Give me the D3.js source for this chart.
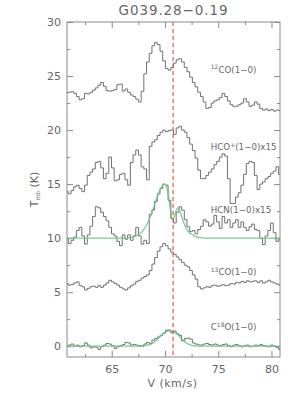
<!DOCTYPE html>
<html>
<head>
<meta charset="utf-8">
<script src="https://cdn.jsdelivr.net/npm/d3@7"></script>
<style>
body { margin: 0; background: #fff; }
text { font-family: "DejaVu Sans", sans-serif; fill: #666; }
</style>
</head>
<body>
<svg id="chart" width="300" height="399"></svg>
<script>
// velocity axis (km/s) and brightness axis (K)
const vRange = [60.8, 80.8];
const tRange = [-1, 30];
const xTicks = [65, 70, 75, 80];
const yTicks = [0, 5, 10, 15, 20, 25, 30];
const minorStep = 2.5;
const vSys = 70.76;
const title = 'G039.28\u22120.19';

// spectra, one value per channel (already offset)
const co12 = [23.45, 23.5, 23.55, 23.4, 23.1, 22.8, 22.9, 23.4, 23.35, 23.5,
    23.7, 23.9, 24.15, 24.4, 24.05, 23.65, 23.6, 23.65, 23.75, 24.2,
    24.25, 23.6, 23.8, 23.5, 23.25, 23.1, 22.85, 22.6, 23.6, 25.2,
    26.3, 27.1, 27.8, 28.1, 27.9, 27.3, 26.4, 25.7, 25.55, 25.8,
    26.2, 26.5, 26.6, 26.3, 25.8, 25.4, 24.9, 24.4, 24.0, 23.5,
    23.1, 22.6, 22.0, 22.1, 22.5, 22.7, 22.8, 23.0, 23.4, 23.1,
    22.7, 22.35, 22.2, 22.2, 22.35, 22.5, 22.9, 22.6, 22.2, 22.3,
    22.6, 22.4, 22.0, 21.85, 21.95, 21.8, 21.9, 21.75, 21.85, 21.8];

const hcop = [14.3, 14.1, 14.4, 14.75, 14.9, 14.6, 14.3, 14.9, 15.8, 16.1,
    16.4, 17.0, 17.1, 16.5, 15.5, 16.0, 17.5, 16.5, 15.3, 15.4,
    15.9, 16.0, 15.4, 14.9, 17.0, 17.7, 18.15, 17.7, 16.6, 16.4,
    15.4, 18.5, 18.9, 19.1, 19.5, 19.8, 20.0, 19.85, 19.95, 20.0,
    19.6, 20.2, 20.35, 20.0, 19.8, 19.3, 18.7, 18.1, 17.4, 16.3,
    15.5, 15.5, 15.8, 16.1, 16.4, 16.8, 17.1, 17.5, 17.8, 17.6,
    15.5, 13.2, 13.2, 13.8, 14.2, 14.9, 15.9, 16.9, 17.1, 17.0,
    15.8, 14.5, 15.0, 15.2, 15.5, 15.7, 16.0, 16.2, 16.6, 15.9];

const hcn = [10.0, 9.5, 9.8, 10.1, 10.7, 11.0, 10.2, 9.45, 10.3, 11.1,
    12.0, 12.9, 12.8, 12.4, 12.0, 11.6, 11.0, 10.4, 10.2, 9.7,
    9.3, 10.3, 9.9, 10.3, 9.8, 10.2, 11.0, 10.2, 9.44, 9.8,
    9.5, 12.2, 12.6, 13.4, 14.1, 14.6, 15.0, 14.9, 13.5, 11.8,
    11.4, 12.4, 12.9, 12.6, 11.7, 11.05, 10.6, 10.7, 10.4, 10.8,
    11.1, 11.7, 11.5, 11.1, 11.3, 12.1, 11.5, 10.9, 12.0, 11.4,
    11.7, 11.0, 11.4, 11.7, 11.0, 11.5, 11.0, 10.7, 11.05, 11.3,
    10.8, 10.7, 10.0, 9.4, 10.2, 10.7, 11.4, 10.5, 9.7, 10.0];

const co13 = [5.8, 5.65, 5.7, 5.85, 5.95, 5.6, 5.5, 5.2, 5.35, 5.5,
    5.55, 5.45, 5.6, 5.45, 5.65, 5.85, 6.1, 5.95, 5.8, 5.65,
    5.45, 5.3, 5.2, 5.4, 5.6, 5.75, 6.0, 6.1, 6.3, 6.45,
    6.6, 7.0, 7.6, 8.2, 8.8, 9.2, 9.5, 9.3, 9.0, 8.7,
    8.5, 8.25, 8.0, 7.75, 7.5, 7.35, 7.0, 6.6, 6.2, 5.5,
    5.3, 5.4, 5.5, 5.45, 5.6, 5.65, 5.55, 5.6, 5.7, 5.6,
    5.65, 5.8, 5.75, 5.9, 5.85, 6.0, 5.9, 6.05, 5.95, 6.0,
    6.05, 5.9, 6.05, 5.85, 5.95, 6.1, 5.95, 5.85, 5.75, 5.65];

const c18o = [0.0, 0.1, 0.2, 0.0, 0.1, -0.05, 0.05, 0.3, 0.1, -0.15,
    -0.05, -0.1, -0.3, -0.05, 0.1, 0.25, 0.2, 0.05, -0.2, -0.05,
    0.05, 0.15, 0.35, 0.3, 0.1, 0.15, 0.1, 0.05, 0.0, 0.2,
    0.35, 0.25, 0.56, 0.7, 0.85, 1.0, 1.2, 1.48, 1.5, 1.25,
    1.4, 1.15, 1.0, 0.5, 0.7, 0.75, 0.65, 0.3, 0.2, 0.12,
    0.1, 0.2, 0.25, 0.15, 0.1, 0.2, 0.1, 0.05, 0.15, 0.2,
    0.05, -0.05, 0.1, 0.15, 0.05, -0.05, 0.05, 0.1, -0.05, 0.0,
    0.1, 0.05, 0.15, 0.05, 0.0, -0.05, 0.1, 0.0, -0.1, -0.3];

// fitted profiles (velocity, value)
const hcnFitV = [60.8, 66.0, 66.8, 67.3, 67.8, 68.2, 68.6, 69.0, 69.3, 69.6, 69.9, 70.1, 70.3, 70.5,
    70.7, 70.85, 71.0, 71.2, 71.4, 71.7, 72.0, 72.3, 72.6, 73.0, 73.5, 74.0, 80.8];
const hcnFitT = [10.0, 10.0, 10.05, 10.2, 10.55, 11.1, 11.9, 13.0, 13.9, 14.6, 15.0, 14.9, 14.1, 12.7,
    11.8, 11.9, 12.4, 12.8, 12.5, 11.6, 10.9, 10.5, 10.3, 10.1, 10.03, 10.0, 10.0];
const c18oFitV = [60.8, 67.5, 68.0, 68.5, 68.9, 69.2, 69.5, 69.8, 70.1, 70.45, 70.8, 71.1, 71.4,
    71.7, 72.0, 72.3, 72.7, 73.2, 80.8];
const c18oFitT = [0, 0, 0.05, 0.13, 0.3, 0.55, 0.85, 1.12, 1.33, 1.42, 1.33, 1.15, 0.85,
    0.55, 0.3, 0.14, 0.05, 0, 0];

const lineNames = [
    [['12', true], ['CO(1\u22120)', false]],
    [['HCO', false], ['+', true], ['(1\u22120)x15', false]],
    [['HCN(1\u22120)x15', false]],
    [['13', true], ['CO(1\u22120)', false]],
    [['C', false], ['18', true], ['O(1\u22120)', false]]
];
const labelT = [25.3, 18.15, 12.35, 6.55, 1.48];
const labelV = 74.3;

const width = 300, height = 399;
const margin = {top: 22, right: 20, bottom: 42, left: 67};

const svg = d3.select('#chart');

const x = d3.scaleLinear().domain(vRange).range([margin.left, width - margin.right]);
const y = d3.scaleLinear().domain(tRange).range([height - margin.bottom, margin.top]);

const nChan = co12.length;
const dv = (vRange[1] - vRange[0]) / (nChan - 1);
const velocity = d3.range(nChan).map(i => vRange[0] + i * dv);

const axisColor = '#8a8a8a';

const yBot = y(tRange[0]), yTop = y(tRange[1]);
const xLeft = x(vRange[0]), xRight = x(vRange[1]);

// frame
svg.append('rect')
    .attr('x', xLeft).attr('y', yTop)
    .attr('width', xRight - xLeft)
    .attr('height', yBot - yTop)
    .attr('fill', 'none').attr('stroke', axisColor).attr('stroke-width', 1);

const minorX = d3.range(62.5, vRange[1], minorStep).filter(v => !xTicks.includes(v));
const minorY = d3.range(2.5, tRange[1], minorStep).filter(v => !yTicks.includes(v));

function styleAxis(g) {
    g.select('.domain').remove();
    g.selectAll('line').attr('stroke', axisColor);
    g.selectAll('text').attr('font-size', 11).attr('fill', '#6a6a6a')
        .attr('font-family', '"DejaVu Sans", sans-serif');
}

svg.append('g').attr('transform', `translate(0,${yBot})`)
    .call(d3.axisBottom(x).tickValues(xTicks).tickSize(-6).tickPadding(8).tickFormat(d3.format('d')))
    .call(styleAxis);
svg.append('g').attr('transform', `translate(0,${yBot})`)
    .call(d3.axisBottom(x).tickValues(minorX).tickSize(-3).tickFormat(''))
    .call(styleAxis);
svg.append('g').attr('transform', `translate(0,${yTop})`)
    .call(d3.axisTop(x).tickValues(xTicks).tickSize(-6).tickFormat(''))
    .call(styleAxis);
svg.append('g').attr('transform', `translate(0,${yTop})`)
    .call(d3.axisTop(x).tickValues(minorX).tickSize(-3).tickFormat(''))
    .call(styleAxis);
svg.append('g').attr('transform', `translate(${xLeft},0)`)
    .call(d3.axisLeft(y).tickValues(yTicks).tickSize(-6).tickPadding(6).tickFormat(d3.format('d')))
    .call(styleAxis);
svg.append('g').attr('transform', `translate(${xLeft},0)`)
    .call(d3.axisLeft(y).tickValues(minorY).tickSize(-3).tickFormat(''))
    .call(styleAxis);
svg.append('g').attr('transform', `translate(${xRight},0)`)
    .call(d3.axisRight(y).tickValues(yTicks).tickSize(-6).tickFormat(''))
    .call(styleAxis);
svg.append('g').attr('transform', `translate(${xRight},0)`)
    .call(d3.axisRight(y).tickValues(minorY).tickSize(-3).tickFormat(''))
    .call(styleAxis);

// spectra
const step = d3.line().x((d, i) => x(velocity[i])).y(d => y(d)).curve(d3.curveStep);
[co12, hcop, hcn, co13, c18o].forEach(s => {
    svg.append('path').attr('d', step(s))
        .attr('fill', 'none').attr('stroke', '#707070').attr('stroke-width', 1);
});

// fits
const smooth = d3.line().x(d => x(d[0])).y(d => y(d[1])).curve(d3.curveMonotoneX);
[[hcnFitV, hcnFitT], [c18oFitV, c18oFitT]].forEach(([vs, ts]) => {
    svg.append('path').attr('d', smooth(d3.zip(vs, ts)))
        .attr('fill', 'none').attr('stroke', '#6cc487').attr('stroke-width', 1.3)
        .attr('stroke-opacity', 0.9);
});

// systemic velocity
svg.append('line')
    .attr('x1', x(vSys)).attr('x2', x(vSys))
    .attr('y1', yTop).attr('y2', yBot)
    .attr('stroke', '#e0603a').attr('stroke-width', 1.2)
    .attr('stroke-dasharray', '4,3');

// line labels
lineNames.forEach((parts, i) => {
    const t = svg.append('text')
        .attr('x', x(labelV)).attr('y', y(labelT[i]))
        .attr('font-size', 8.7);
    parts.forEach(([s, sup], j) => {
        const ts = t.append('tspan').text(s);
        if (sup) ts.attr('font-size', 6).attr('dy', -3.5);
        else if (j > 0 && parts[j - 1][1]) ts.attr('dy', 3.5);
    });
});

// title and axis labels
svg.append('text')
    .attr('x', (xLeft + xRight) / 2).attr('y', 15)
    .attr('text-anchor', 'middle').attr('font-size', 13.5)
    .attr('letter-spacing', 0.9)
    .text(title);

svg.append('text')
    .attr('x', (xLeft + xRight) / 2 - 1).attr('y', 387)
    .attr('text-anchor', 'middle').attr('font-size', 11)
    .attr('letter-spacing', 0.5)
    .text('V (km/s)');

const yl = svg.append('text')
    .attr('transform', `translate(38,${(yTop + yBot) / 2}) rotate(-90)`)
    .attr('text-anchor', 'middle').attr('font-size', 11);
yl.append('tspan').text('T');
yl.append('tspan').text('mb').attr('font-size', 6).attr('dy', 2);
yl.append('tspan').text(' (K)').attr('dy', -2);
</script>
</body>
</html>
